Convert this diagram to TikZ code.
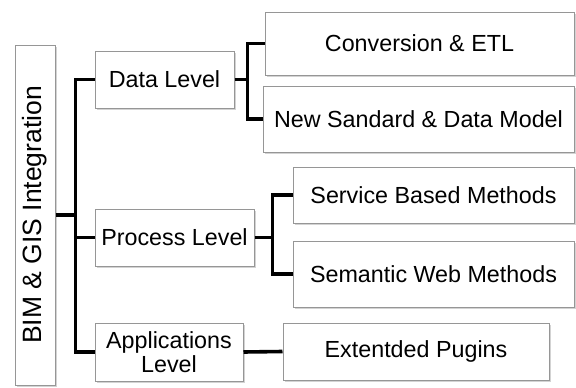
\documentclass[tikz,border=0pt]{standalone}
\usepackage{fontspec}
\setmainfont{Liberation Sans}
\usetikzlibrary{shadows}

\tikzset{
  levelbox/.style={draw={rgb,255:red,150;green,150;blue,150}, line width=1pt, fill=white,
    drop shadow={shadow xshift=2pt, shadow yshift=-2pt, opacity=0.35},
    align=center, inner sep=0pt, font=\fontsize{23.3}{24}\selectfont},
  wire/.style={line width=3.6pt, black}
}

\begin{document}
\begin{tikzpicture}[x=1pt,y=1pt,yscale=-1,xscale=1]
\useasboundingbox (0,0) rectangle (576,388);

%Root
\node [levelbox, minimum width=40pt, minimum height=340pt] (root) at (35,215)
  {\rotatebox{90}{\fontsize{26.5}{27}\selectfont BIM \& GIS Integration}};

%Levels
\node [levelbox, minimum width=139pt, minimum height=57pt] (data) at (164.5,79.5) {Data Level};
\node [levelbox, minimum width=159pt, minimum height=57pt] (process) at (174.5,237.5) {Process Level};
\node [levelbox, minimum width=148pt, minimum height=58pt] (apps) at (169,352) {Applications\\Level};

%Leaves
\node [levelbox, minimum width=309pt, minimum height=63pt] (conv) at (419.5,43.5) {Conversion \& ETL};
\node [levelbox, minimum width=311pt, minimum height=66pt] (model) at (418.5,119) {New Sandard \& Data Model};
\node [levelbox, minimum width=281pt, minimum height=56pt] (service) at (433.5,195) {Service Based Methods};
\node [levelbox, minimum width=281pt, minimum height=66pt] (semantic) at (433.5,274) {Semantic Web Methods};
\node [levelbox, minimum width=266pt, minimum height=57pt] (plugins) at (416,351.5) {Extentded Pugins};

%Connectors
\draw [wire] (root.east) -- ++(21,0);
\draw [wire] (data.west) -- ++(-19,0) |- (apps.west);
\draw [wire] (process.west) -- ++(-19,0);
\draw [wire] (data.east) -- ++(14,0);
\draw [wire] (conv.west) -- ++(-17,0) |- (model.west);
\draw [wire] (process.east) -- ++(19,0);
\draw [wire] (service.west) -- ++(-20,0) |- (semantic.west);
\draw [wire] (apps.east) -- (plugins.west);

\end{tikzpicture}
\end{document}
